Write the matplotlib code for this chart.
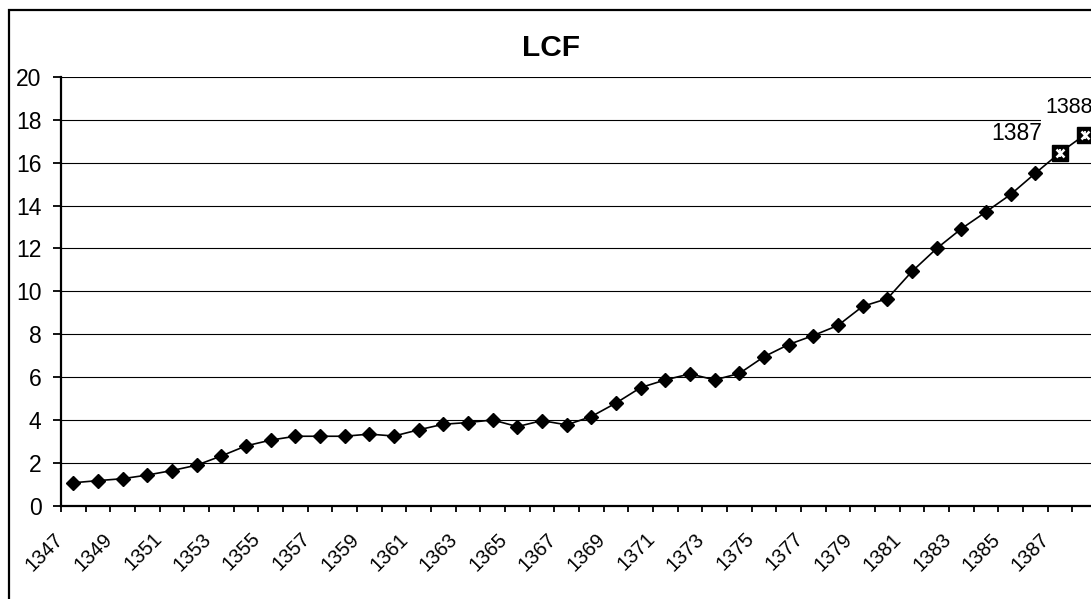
import numpy as np
import matplotlib.pyplot as plt
import matplotlib.transforms as mtransforms
from matplotlib.patches import Rectangle

plt.rcParams['font.family'] = ['Liberation Sans', 'DejaVu Sans']

# LCF par annee
years = list(range(1347, 1389))
lcf = [1.07, 1.17, 1.26, 1.43, 1.64, 1.89, 2.32, 2.79, 3.06, 3.24,
       3.24, 3.24, 3.34, 3.25, 3.54, 3.80, 3.88, 4.00, 3.69, 3.97,
       3.77, 4.16, 4.79, 5.51, 5.87, 6.15, 5.87, 6.17, 6.95, 7.52,
       7.94, 8.41, 9.30, 9.66, 10.93, 12.00, 12.92, 13.71, 14.52, 15.51,
       16.47, 17.30]
year_labels = [str(y) for y in years[::2]]
yticks = list(range(0, 21, 2))
labelled = [1387, 1388]

fig = plt.figure(figsize=(10.91, 5.99), dpi=100)
ax = fig.add_axes([61/1091, 1 - 505.7/599, 1036/1091, 428.7/599])

x = np.arange(len(years))
ax.plot(x, lcf, color='black', lw=1.2, zorder=3)
n = len(years) - len(labelled)
ax.plot(x[:n], lcf[:n], ls='none', marker='D', ms=7.3, color='black', zorder=4)
# points speciaux : carre noir avec etoile blanche
ax.plot(x[n:], lcf[n:], ls='none', marker='s', ms=11, color='black', zorder=4)
ax.plot(x[n:], lcf[n:], ls='none', marker='x', ms=5.5, mew=1.8, color='white', zorder=5)
ax.plot(x[n:], lcf[n:], ls='none', marker='|', ms=5.5, mew=1.3, color='white', zorder=5)

ax.annotate(str(labelled[0]), (x[n], lcf[n]), xytext=(-13, 14), textcoords='offset points',
            ha='right', va='center', fontsize=16.5, zorder=6)
ax.annotate(str(labelled[1]), (x[n+1], lcf[n+1]), xytext=(-28, 20), textcoords='offset points',
            ha='left', va='center', fontsize=15.5, zorder=6,
            bbox=dict(boxstyle='square,pad=0.22', fc='white', ec='none'))

ax.set_xlim(-0.5, len(years) - 0.5)
ax.set_ylim(0, 20)
ax.set_yticks(yticks)
ax.yaxis.grid(True, color='black', lw=0.8)
ax.set_axisbelow(True)

# graduations entre les categories, etiquettes une annee sur deux
ax.set_xticks(np.arange(-0.5, len(years), 1.0))
ax.set_xticklabels([])
ax.set_xticks(x[::2], minor=True)
ax.set_xticklabels(year_labels, minor=True, rotation=45, ha='right', va='top',
                   rotation_mode='anchor', fontsize=14.5)
ax.tick_params(axis='x', which='major', length=4.5, width=1.3, color='black')
ax.tick_params(axis='x', which='minor', length=0, pad=17)
ax.tick_params(axis='y', length=6, width=1.3, pad=8, labelsize=16.5)
offset = mtransforms.ScaledTranslation(-20/100, 0, fig.dpi_scale_trans)
for lab in ax.get_xticklabels(minor=True):
    lab.set_transform(lab.get_transform() + offset)

for side in ['top', 'right']:
    ax.spines[side].set_visible(False)
for side in ['left', 'bottom']:
    ax.spines[side].set_linewidth(1.6)

fig.text(551.5/1091, 1 - 47.5/599, 'LCF', ha='center', va='center',
         fontsize=21.5, fontweight='bold')

# cadre du graphique
fig.patches.append(Rectangle((9/1091, -0.1), 1.2, 1.1 - 10/599, transform=fig.transFigure,
                             fill=False, ec='black', lw=1.6, zorder=0))

fig.savefig('out.png', dpi=100)
